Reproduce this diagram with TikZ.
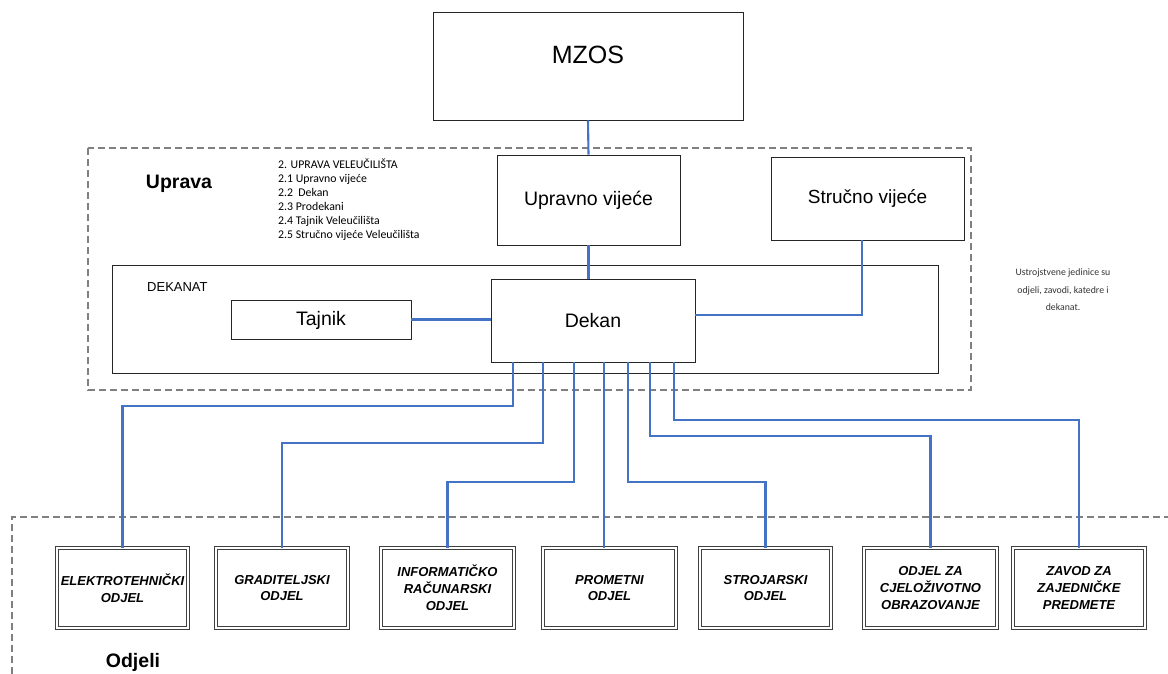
\documentclass[tikz,border=0pt]{standalone}
\usepackage{fontspec}
\setmainfont{Liberation Sans}
\newfontfamily\calfont{Carlito}
\definecolor{linkblue}{RGB}{68,114,196}
\begin{document}
\begin{tikzpicture}[x=1pt,y=-1pt,
  box/.style={draw=black!85,line width=0.9pt,fill=white,inner sep=0pt},
  dept/.style={draw=black!75,double=white,double distance=1.6pt,line width=0.9pt,inner sep=0pt,font=\bfseries\itshape\fontsize{13}{16.8}\selectfont,align=center},
  conn/.style={draw=linkblue,line width=2.1pt},
  dashline/.style={draw=black!50,line width=1.3pt,dash pattern=on 7pt off 4pt}]
\useasboundingbox (0,0) rectangle (1168,674);
% dashed frames
\draw[dashline] (88,148) rectangle (971,390);
\draw[dashline] (12,674) -- (12,517) -- (1168,517);
% top boxes
\node[box,minimum width=310pt,minimum height=108pt,text depth=22pt,font=\fontsize{25}{28}\selectfont] (mzos) at (588,66) {MZOS};
\node[box,minimum width=183pt,minimum height=90pt,font=\fontsize{19.5}{22}\selectfont] (uv) at (588.5,200) {Upravno vije\'ce};
\node[box,minimum width=193pt,minimum height=83pt,font=\fontsize{19}{22}\selectfont] (sv) at (867.5,198.5) {Stru\v cno vije\'ce};
\node[box,minimum width=826pt,minimum height=108pt] (dekanat) at (525,319) {};
\node[box,minimum width=204pt,minimum height=83pt,font=\fontsize{19.5}{22}\selectfont] (dekan) at (593,320.5) {Dekan};
\node[box,minimum width=180pt,minimum height=39pt,text height=17pt,font=\fontsize{19.5}{22}\selectfont] (tajnik) at (321,319.5) {Tajnik};
% texts
\node[font=\bfseries\fontsize{19.5}{22}\selectfont] (uprava) at (179,184) {Uprava};
\node[font=\fontsize{13}{15}\selectfont,anchor=west,inner sep=0pt] (dektxt) at (147,287) {DEKANAT};
\node[font=\calfont\fontsize{11.8}{14}\selectfont,align=left,anchor=north west,inner sep=0pt] (list) at (278,159) {2. UPRAVA VELEU\v CILI\v STA\\2.1 Upravno vije\'ce\\2.2\ \ Dekan\\2.3 Prodekani\\2.4 Tajnik Veleu\v cili\v sta\\2.5 Stru\v cno vije\'ce Veleu\v cili\v sta};
\node[font=\calfont\fontsize{9.8}{17.5}\selectfont,align=center,text=black!80] (note) at (1063,290) {Ustrojstvene jedinice su\\odjeli, zavodi, katedre i\\dekanat.};
\node[font=\bfseries\fontsize{19.5}{22}\selectfont] (odjeli) at (133,662) {Odjeli};
% departments
\node[dept,minimum width=131pt,minimum height=80pt] (d1) at (122.5,588) {ELEKTROTEHNI\v CKI\\ODJEL};
\node[dept,minimum width=132pt,minimum height=80pt] (d2) at (282,588) {GRADITELJSKI\\ODJEL};
\node[dept,minimum width=133pt,minimum height=80pt] (d3) at (447.5,588) {INFORMATI\v CKO\\RA\v CUNARSKI\\ODJEL};
\node[dept,minimum width=133pt,minimum height=80pt] (d4) at (609.5,588) {PROMETNI\\ODJEL};
\node[dept,minimum width=131pt,minimum height=80pt] (d5) at (765.5,588) {STROJARSKI\\ODJEL};
\node[dept,minimum width=133pt,minimum height=80pt] (d6) at (930.5,588) {ODJEL ZA\\CJELO\v ZIVOTNO\\OBRAZOVANJE};
\node[dept,minimum width=132pt,minimum height=80pt] (d7) at (1079,588) {ZAVOD ZA\\ZAJEDNI\v CKE\\PREDMETE};
% connectors
\draw[conn] (mzos.south) -- (uv.north);
\draw[conn] (uv.south) -- (dekan.north -| uv.south);
\draw[conn] (tajnik.east) -- (dekan.west |- tajnik.east);
\coordinate (svc) at (862,315);
\draw[conn] (dekan.east |- svc) -- (svc) -- (svc |- sv.south);
\coordinate (b1) at (513,406);
\coordinate (b2) at (543,443);
\coordinate (b3) at (574,482);
\coordinate (b4) at (604,362);
\coordinate (b5) at (628,482);
\coordinate (b6) at (650,436);
\coordinate (b7) at (674,420);
\draw[conn] (b1 |- dekan.south) -- (b1) -| (d1.north);
\draw[conn] (b2 |- dekan.south) -- (b2) -| (d2.north);
\draw[conn] (b3 |- dekan.south) -- (b3) -| (d3.north);
\draw[conn] (b4 |- dekan.south) -- (b4 |- d4.north);
\draw[conn] (b5 |- dekan.south) -- (b5) -| (d5.north);
\draw[conn] (b6 |- dekan.south) -- (b6) -| (d6.north);
\draw[conn] (b7 |- dekan.south) -- (b7) -| (d7.north);
\end{tikzpicture}
\end{document}
